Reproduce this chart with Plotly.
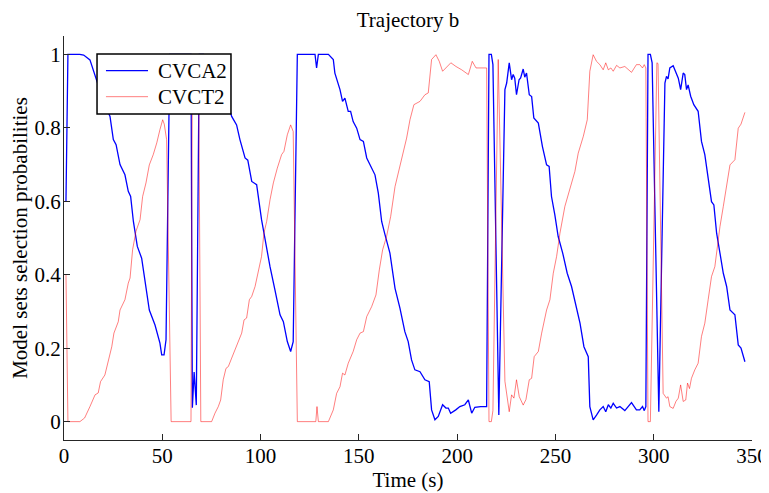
import plotly.graph_objects as go

# Time stamps (s) and selection probability of model set CVCA2
t_cvca2 = [1, 2, 8, 10, 13.2, 16.6, 19, 21, 23.4, 25.1, 26.5, 28.5, 31, 32.7, 33.9, 35.3, 37.3, 39.5,
           41.2, 43.4, 46.3, 48.8, 49.7, 50.9, 51.9, 53.8, 64.6, 65.3, 66.2, 67.3, 68.8, 71, 74, 77,
           80, 82.5, 85.3, 87.8, 89.5, 92.1, 93.5, 95.5, 98, 100.5, 102.2, 104.8, 107.3, 109.9, 111.6,
           113.6, 115.3, 116.6, 118.7, 127.7, 128.5, 129.4, 134.5, 137, 137.8, 140.4, 141.7, 142.9,
           144.6, 145.8, 147.1, 148.9, 150.6, 152.3, 154, 156.5, 158.2, 159.9, 161.6, 163.3, 165.8,
           168.4, 170.9, 173.4, 175.1, 176.8, 178.5, 181.1, 183.6, 185.8, 187, 188.7, 190.4, 192.6,
           194.3, 195.5, 196.7, 199.3, 201.4, 203.9, 205.7, 207.4, 209, 212, 215.0, 216.2, 217.4,
           218.2, 221.2, 224.3, 225.2, 226.5, 227.7, 228.5, 229.3, 230.2, 231.5, 232.3, 233.6, 234.4,
           235.3, 236.7, 237.9, 239, 241.3, 243.4, 245.5, 246.8, 248, 249.7, 251.4, 253.7, 256, 258.2,
           260.8, 262.5, 264.5, 266.7, 267.5, 269.2, 270.9, 272.6, 274.3, 275.6, 276.9, 278.2, 279.4,
           281.1, 282.8, 285.3, 288.7, 291.2, 292.9, 294.3, 295.2, 296.0, 297.1, 298.3, 299.2, 302.6,
           305.7, 306.5, 307.3, 308.2, 309.9, 311.3, 312.5, 313.7, 315, 315.8, 316.7, 317.5, 318.8,
           320.4, 322.6, 324.3, 326, 327.7, 329.4, 330.6, 332, 333.7, 335.4, 337.1, 338.8, 341.3, 343,
           344.4, 346.4]
p_cvca2 = [0.60, 1.0, 1.0, 0.998, 0.985, 0.927, 0.89, 0.86, 0.831, 0.768, 0.754, 0.70, 0.672, 0.627,
           0.613, 0.545, 0.477, 0.445, 0.386, 0.304, 0.263, 0.214, 0.182, 0.182, 0.223, 1.0, 1.0, 0.038,
           0.135, 0.045, 1.0, 1.0, 0.99, 0.965, 0.925, 0.88, 0.831, 0.808, 0.768, 0.718, 0.712, 0.654,
           0.645, 0.55, 0.495, 0.422, 0.359, 0.291, 0.272, 0.218, 0.191, 0.218, 1.0, 1.0, 0.963, 1.0,
           1.0, 0.986, 0.949, 0.904, 0.872, 0.881, 0.845, 0.845, 0.817, 0.799, 0.768, 0.763, 0.718,
           0.69, 0.672, 0.622, 0.545, 0.509, 0.459, 0.363, 0.309, 0.245, 0.218, 0.168, 0.141, 0.136,
           0.114, 0.109, 0.032, 0.005, 0.014, 0.046, 0.037, 0.037, 0.023, 0.032, 0.041, 0.046, 0.059,
           0.023, 0.039, 0.041, 0.041, 1.0, 1.0, 0.972, 0.018, 0.904, 0.922, 0.977, 0.931, 0.945, 0.935,
           0.890, 0.931, 0.936, 0.960, 0.938, 0.949, 0.890, 0.885, 0.827, 0.813, 0.749, 0.699, 0.695,
           0.613, 0.563, 0.504, 0.459, 0.404, 0.368, 0.304, 0.268, 0.204, 0.177, 0.041, 0.005, 0.018,
           0.032, 0.041, 0.027, 0.046, 0.037, 0.050, 0.037, 0.041, 0.030, 0.052, 0.032, 0.032, 0.041,
           0.030, 0.041, 1.0, 1.0, 0.977, 0.027, 0.922, 0.940, 0.933, 0.963, 0.969, 0.949, 0.935,
           0.904, 0.949, 0.945, 0.904, 0.917, 0.886, 0.863, 0.845, 0.763, 0.727, 0.663, 0.599, 0.59,
           0.513, 0.459, 0.404, 0.368, 0.304, 0.291, 0.209, 0.2, 0.163]

# Time stamps (s) and selection probability of model set CVCT2
t_cvct2 = [1, 2, 8.1, 10.5, 13.2, 15.8, 17.4, 18.6, 20.8, 22.6, 24.3, 25.4, 27.6, 28.5, 31, 32.7, 33.6,
           34.9, 36.6, 38.7, 40, 41.7, 43.4, 45.4, 47.2, 48.8, 50.2, 51.0, 52.2, 54.5, 64.6, 65.3,
           66.2, 67.3, 68.5, 69.6, 75.1, 76.8, 78.5, 79.7, 81, 82.4, 83.6, 85.3, 87, 88.7, 90.4, 91.6,
           92.9, 94.3, 95.5, 97.2, 98.8, 100.5, 101.7, 103.1, 104.8, 106.5, 108.5, 110.7, 111.9, 113.6,
           115.3, 116.6, 118.7, 128.1, 128.7, 129.4, 134.5, 137, 138.7, 140.4, 141.7, 142.9, 144.6,
           147.1, 148.9, 150.6, 152.3, 154, 156.5, 158.7, 160.4, 162.1, 164.1, 166.2, 168.4, 170.6,
           172.3, 174.3, 176, 178, 181.1, 183.6, 185.3, 187, 189.2, 190.9, 192.6, 194.7, 196.8, 199.4,
           202.3, 205.7, 207.7, 209.6, 212, 215.0, 216.2, 217.4, 218.2, 220.9, 224.3, 225.2, 226.5,
           227.7, 228.9, 230.2, 231.6, 233.6, 235, 236.7, 237.9, 239.2, 241.3, 243, 245.5, 247.2,
           248.9, 250.6, 252.3, 254.8, 257.4, 259.9, 261.6, 264.2, 266.2, 267.5, 269.2, 270.9, 272.6,
           274.3, 275.6, 276.9, 278.2, 279.4, 281.1, 282.8, 285.3, 288.7, 291.2, 292.9, 294.3, 295.2,
           296.0, 297.1, 298.3, 301.6, 302.2, 304.8, 306.5, 307.3, 308.2, 309.9, 311.3, 312.5, 313.7,
           315, 316.3, 317.2, 318.2, 319.2, 320.9, 322.6, 324.3, 326, 327.7, 329.4, 331.1, 332.3,
           333.7, 335.4, 337.1, 338.8, 341.3, 343, 344.4, 346.4]
p_cvct2 = [0.40, 0.0, 0.0, 0.01, 0.041, 0.073, 0.078, 0.109, 0.127, 0.168, 0.204, 0.241, 0.272, 0.304,
           0.332, 0.377, 0.391, 0.468, 0.518, 0.55, 0.613, 0.65, 0.699, 0.727, 0.759, 0.795, 0.822,
           0.81, 0.768, 0.0, 0.0, 0.96, 0.865, 0.955, 0.95, 0.0, 0.0, 0.023, 0.041, 0.059, 0.114,
           0.145, 0.15, 0.173, 0.195, 0.218, 0.241, 0.277, 0.282, 0.332, 0.341, 0.368, 0.413, 0.45,
           0.513, 0.545, 0.604, 0.65, 0.69, 0.727, 0.736, 0.781, 0.808, 0.79, 0.0, 0.0, 0.041, 0.0,
           0.0, 0.032, 0.077, 0.095, 0.132, 0.127, 0.159, 0.191, 0.223, 0.241, 0.245, 0.286, 0.313,
           0.345, 0.413, 0.468, 0.504, 0.559, 0.64, 0.69, 0.731, 0.772, 0.822, 0.863, 0.872, 0.89,
           0.895, 0.986, 0.999, 0.981, 0.954, 0.967, 0.977, 0.967, 0.958, 0.945, 0.981, 0.963, 0.963,
           0.963, 0.0, 0.0, 0.03, 0.986, 0.11, 0.077, 0.027, 0.073, 0.064, 0.114, 0.068, 0.045, 0.06,
           0.114, 0.118, 0.177, 0.191, 0.241, 0.304, 0.332, 0.404, 0.45, 0.513, 0.586, 0.631, 0.681,
           0.731, 0.777, 0.822, 0.954, 0.999, 0.981, 0.972, 0.958, 0.977, 0.958, 0.963, 0.954, 0.97,
           0.963, 0.967, 0.951, 0.972, 0.972, 0.963, 0.972, 0.963, 0.0, 0.0, 0.977, 0.975, 0.077,
           0.064, 0.068, 0.041, 0.036, 0.055, 0.064, 0.1, 0.055, 0.059, 0.105, 0.09, 0.118, 0.141,
           0.159, 0.232, 0.268, 0.332, 0.395, 0.422, 0.477, 0.531, 0.586, 0.64, 0.699, 0.713, 0.799,
           0.81, 0.842]

series_names = ["CVCA2", "CVCT2"]
x_ticks = [0, 50, 100, 150, 200, 250, 300, 350]
y_ticks = [0, 0.2, 0.4, 0.6, 0.8, 1]
y_tick_text = ["0", "0.2", "0.4", "0.6", "0.8", "1"]

FONT = "Liberation Serif"
BLUE = dict(color="#0000FF", width=1.3)
RED = dict(color="rgba(255,0,0,0.5)", width=1)

fig = go.Figure()
fig.add_trace(go.Scatter(x=t_cvca2, y=p_cvca2, mode="lines", name=series_names[0], line=BLUE))
fig.add_trace(go.Scatter(x=t_cvct2, y=p_cvct2, mode="lines", name=series_names[1], line=RED))

axis_common = dict(showgrid=False, zeroline=False, showline=True, linecolor="#262626",
                   linewidth=1, ticks="inside", ticklen=6, tickcolor="#262626",
                   tickfont=dict(family=FONT, size=21, color="black"), mirror=False,
                   automargin=False)

# The page body has an 8px margin, so the figure is sized/offset to fill the 769x493 window.
W, H = 761, 485
# Legend box drawn in axes-paper coordinates (matching the MATLAB-style boxed legend)
shapes = [
    dict(type="rect", xref="paper", yref="paper", x0=0.048, x1=0.2427, y0=0.807, y1=0.9554,
         fillcolor="white", line=dict(color="black", width=1.5), layer="above"),
    dict(type="line", xref="paper", yref="paper", x0=0.061, x1=0.1221, y0=0.9141, y1=0.9141,
         line=BLUE, layer="above"),
    dict(type="line", xref="paper", yref="paper", x0=0.061, x1=0.1221, y0=0.8498, y1=0.8498,
         line=RED, layer="above"),
]
annotations = [
    dict(text=series_names[0], xref="paper", yref="paper", x=0.1337, y=0.9141,
         xanchor="left", yanchor="middle", showarrow=False,
         font=dict(family=FONT, size=21, color="black")),
    dict(text=series_names[1], xref="paper", yref="paper", x=0.1337, y=0.8498,
         xanchor="left", yanchor="middle", showarrow=False,
         font=dict(family=FONT, size=21, color="black")),
]

fig.update_layout(
    width=W, height=H,
    margin=dict(l=56, r=17, t=28, b=53, autoexpand=False),
    paper_bgcolor="white", plot_bgcolor="white",
    font=dict(family=FONT, size=21, color="black"),
    title=dict(text="Trajectory b", x=400 / W, xanchor="center",
               y=1 - 12 / H, yanchor="middle", yref="container",
               font=dict(family=FONT, size=21, color="black")),
    xaxis=dict(range=[0, 350], tickvals=x_ticks, ticktext=[str(v) for v in x_ticks],
               ticklabelstandoff=-3,
               title=dict(text="Time (s)", standoff=0, font=dict(family=FONT, size=21)),
               **axis_common),
    yaxis=dict(range=[-0.05, 1.05], tickvals=y_ticks, ticktext=y_tick_text,
               ticklabelstandoff=-2,
               title=dict(text="Model sets selection probabilities", standoff=2,
                          font=dict(family=FONT, size=21)),
               **axis_common),
    showlegend=False,
    shapes=shapes,
    annotations=annotations,
)

fig.write_html("out.html")
